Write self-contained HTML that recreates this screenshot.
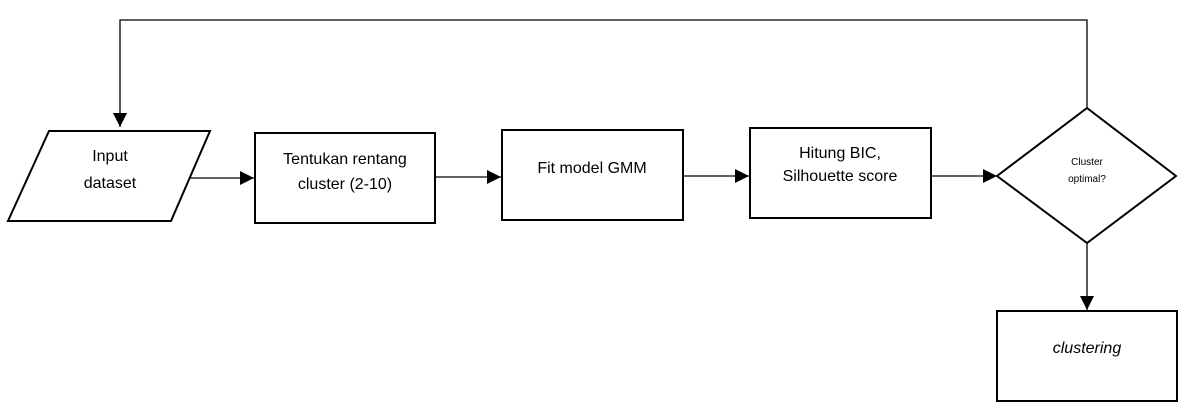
<!DOCTYPE html>
<html><head><meta charset="utf-8"><style>
body{margin:0;background:#fff;}
svg text{font-family:"Liberation Sans",sans-serif;fill:#000;}
</style></head><body>
<svg width="1192" height="410" viewBox="0 0 1192 410" xmlns="http://www.w3.org/2000/svg">
<defs><marker id="a" markerWidth="10" markerHeight="10" refX="9" refY="5" orient="auto" markerUnits="userSpaceOnUse" viewBox="0 0 10 10"><path d="M0,0 L10,5 L0,10 z" fill="#000"/></marker>
<marker id="b" markerWidth="14" markerHeight="14" refX="14" refY="7" orient="auto" markerUnits="userSpaceOnUse" viewBox="0 0 14 14"><path d="M0,0 L14,7 L0,14 z" fill="#000"/></marker></defs>
<g stroke="#000" stroke-width="2" fill="none">
<polygon points="49,131 210,131 171,221 8,221"/>
<rect x="255" y="133" width="180" height="90"/>
<rect x="502" y="130" width="181" height="90"/>
<rect x="750" y="128" width="181" height="90"/>
<polygon points="1087,108 1176,176 1087,243 997,176"/>
<rect x="997" y="311" width="180" height="90"/>
</g>
<g stroke="#000" stroke-width="1.3" fill="none">
<line x1="189" y1="178" x2="254" y2="178" marker-end="url(#b)"/>
<line x1="435" y1="177" x2="501" y2="177" marker-end="url(#b)"/>
<line x1="683" y1="176" x2="749" y2="176" marker-end="url(#b)"/>
<line x1="931" y1="176" x2="997" y2="176" marker-end="url(#b)"/>
<line x1="1087" y1="243" x2="1087" y2="310" marker-end="url(#b)"/>
<polyline points="1087,108 1087,20 120,20 120,127" marker-end="url(#b)"/>
</g>
<g font-size="16" text-anchor="middle">
<text x="110" y="161">Input</text>
<text x="110" y="188">dataset</text>
<text x="345" y="164">Tentukan rentang</text>
<text x="345" y="189">cluster (2-10)</text>
<text x="592" y="173">Fit model GMM</text>
<text x="840" y="158">Hitung BIC,</text>
<text x="840" y="181">Silhouette score</text>
<text x="1087" y="165" font-size="10">Cluster</text>
<text x="1087" y="182" font-size="10">optimal?</text>
<text x="1087" y="353" font-style="italic">clustering</text>
</g>
</svg>
</body></html>
